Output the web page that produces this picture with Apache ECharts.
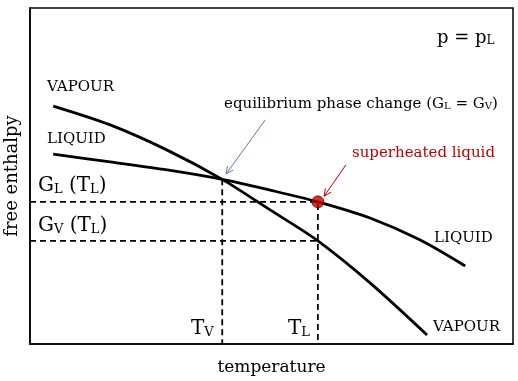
<!DOCTYPE html>
<html><head><meta charset="utf-8">
<script src="https://cdn.jsdelivr.net/npm/echarts@6/dist/echarts.min.js"></script>
<style>html,body{margin:0;padding:0;background:#fff}#c{width:518px;height:381px}</style>
</head><body><div id="c"></div>
<script>
// Data (arbitrary units: temperature 0-100, free enthalpy 0-100)
const vapourT = [4.8, 16.6, 28.4, 39.8, 49.7, 59.6, 70.4, 82.2];
const vapourG = [70.8, 65.2, 57.7, 49.0, 39.9, 30.7, 18.2, 2.7];
const liquidT = [4.8, 16.6, 28.4, 39.8, 49.7, 59.6, 70.4, 80.7, 90.1];
const liquidG = [56.5, 54.2, 51.8, 49.0, 45.8, 42.3, 37.5, 31.0, 23.2];
const TV = 39.8;           // equilibrium temperature
const TL = 59.6;           // superheated temperature
const G_eq = 49.0;         // G_L = G_V at TV
const GL_TL = 42.3;        // G_L(T_L)
const GV_TL = 30.7;        // G_V(T_L)
const arrowEq = [[48.7, 66.7], [40.6, 50.6]];
const arrowSh = [[65.4, 53.3], [60.9, 44.0]];

const FONT = 'DejaVu Serif';
const zip = (a, b) => a.map((v, i) => [v, b[i]]);

function arrowItem(color) {
  return function (params, api) {
    const p0 = api.coord([api.value(0), api.value(1)]);
    const p1 = api.coord([api.value(2), api.value(3)]);
    const ang = Math.atan2(p1[1] - p0[1], p1[0] - p0[0]);
    const L = 8, a = 0.45;
    const h1 = [p1[0] - L * Math.cos(ang - a), p1[1] - L * Math.sin(ang - a)];
    const h2 = [p1[0] - L * Math.cos(ang + a), p1[1] - L * Math.sin(ang + a)];
    return {
      type: 'group',
      children: [
        { type: 'line', shape: { x1: p0[0], y1: p0[1], x2: p1[0], y2: p1[1] }, style: { stroke: color, lineWidth: 1 } },
        { type: 'polyline', shape: { points: [h1, p1, h2] }, style: { stroke: color, lineWidth: 1, fill: null } }
      ]
    };
  };
}

const chart = echarts.init(document.getElementById('c'), null, { renderer: 'canvas' });
const rich = (big, small, color, lh) => ({
  m: { fontSize: big, fontFamily: FONT, color: color, verticalAlign: 'bottom' },
  s: { fontSize: small, fontFamily: FONT, color: color, verticalAlign: 'bottom', lineHeight: lh }
});

const dashStyle = { color: '#000', width: 1.8, type: [6, 4] };

chart.setOption({
  animation: false,
  backgroundColor: '#fff',
  grid: { left: 30, right: 5, top: 8, bottom: 37, show: true, borderColor: '#000', borderWidth: 1.5, containLabel: false, outerBoundsMode: 'none' },
  xAxis: {
    type: 'value', min: 0, max: 100,
    name: 'temperature', nameLocation: 'middle', nameGap: 15,
    nameTextStyle: { fontFamily: FONT, fontSize: 17, color: '#000', verticalAlign: 'top' },
    axisLine: { show: true, lineStyle: { color: '#000', width: 1.5 } },
    axisTick: { show: false }, axisLabel: { show: false }, splitLine: { show: false }
  },
  yAxis: {
    type: 'value', min: 0, max: 100,
    name: 'free enthalpy', nameLocation: 'middle', nameGap: 9, nameRotate: 90,
    nameTextStyle: { fontFamily: FONT, fontSize: 18, color: '#000' },
    axisLine: { show: true, lineStyle: { color: '#000', width: 1.5 } },
    axisTick: { show: false }, axisLabel: { show: false }, splitLine: { show: false }
  },
  series: [
    { type: 'line', data: [[0, GL_TL], [TL, GL_TL], [TL, 0]], symbol: 'none', lineStyle: dashStyle, z: 1 },
    { type: 'line', data: [[0, GV_TL], [TL, GV_TL]], symbol: 'none', lineStyle: dashStyle, z: 1 },
    { type: 'line', data: [[TV, G_eq], [TV, 0]], symbol: 'none', lineStyle: dashStyle, z: 1 },
    { type: 'line', data: zip(vapourT, vapourG), smooth: 0.3, symbol: 'none', lineStyle: { color: '#000', width: 2.8 }, z: 3 },
    { type: 'line', data: zip(liquidT, liquidG), smooth: 0.3, symbol: 'none', lineStyle: { color: '#000', width: 2.8 }, z: 3 },
    { type: 'scatter', data: [[TL, GL_TL]], symbolSize: 12, itemStyle: { color: '#c00000', borderColor: '#7a0000', borderWidth: 1 }, z: 5 },
    { type: 'custom', renderItem: arrowItem('#5a7aa8'), data: [[arrowEq[0][0], arrowEq[0][1], arrowEq[1][0], arrowEq[1][1]]], z: 4 },
    { type: 'custom', renderItem: arrowItem('#c00000'), data: [[arrowSh[0][0], arrowSh[0][1], arrowSh[1][0], arrowSh[1][1]]], z: 4 }
  ],
  graphic: [
    { type: 'text', x: 47, y: 87, style: { text: 'VAPOUR', font: '15px ' + FONT, fill: '#000', verticalAlign: 'middle' } },
    { type: 'text', x: 47, y: 139, style: { text: 'LIQUID', font: '15px ' + FONT, fill: '#000', verticalAlign: 'middle' } },
    { type: 'text', x: 434, y: 238, style: { text: 'LIQUID', font: '15px ' + FONT, fill: '#000', verticalAlign: 'middle' } },
    { type: 'text', x: 433, y: 327, style: { text: 'VAPOUR', font: '15px ' + FONT, fill: '#000', verticalAlign: 'middle' } },
    { type: 'text', x: 437, y: 38, style: { text: '{m|p = p}{s|L}', verticalAlign: 'middle', rich: rich(18, 12, '#000', 18) } },
    { type: 'text', x: 38, y: 186, style: { text: '{m|G}{s|L}{m| (T}{s|L}{m|)}', verticalAlign: 'middle', rich: rich(20, 13, '#000', 19) } },
    { type: 'text', x: 38, y: 226, style: { text: '{m|G}{s|V}{m| (T}{s|L}{m|)}', verticalAlign: 'middle', rich: rich(20, 13, '#000', 19) } },
    { type: 'text', x: 191, y: 329, style: { text: '{m|T}{s|V}', verticalAlign: 'middle', rich: rich(20, 13, '#000', 19) } },
    { type: 'text', x: 288, y: 329, style: { text: '{m|T}{s|L}', verticalAlign: 'middle', rich: rich(20, 13, '#000', 19) } },
    { type: 'text', x: 224, y: 104, style: { text: '{m|equilibrium phase change (G}{s|L}{m| = G}{s|V}{m|)}', verticalAlign: 'middle', rich: rich(15, 10, '#4f6f9c', 15) } },
    { type: 'text', x: 352, y: 153, style: { text: 'superheated liquid', font: '15px ' + FONT, fill: '#c00000', verticalAlign: 'middle' } }
  ]
});
</script></body></html>
